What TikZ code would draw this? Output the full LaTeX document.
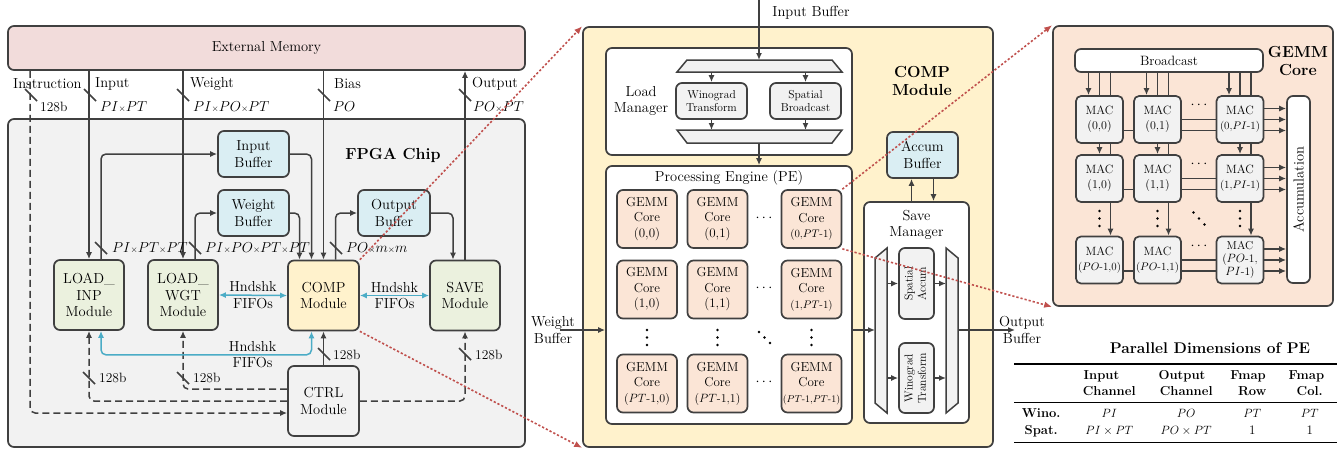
\documentclass[tikz,border=0pt]{standalone}
\usepackage{fontspec}
\usepackage{graphicx}
\usepackage{array}
\usepackage{booktabs}
\usetikzlibrary{arrows.meta}
\definecolor{linec}{HTML}{404040}
\definecolor{memc}{HTML}{F2DCDB}
\definecolor{chipc}{HTML}{F2F2F2}
\definecolor{grnc}{HTML}{EBF1DE}
\definecolor{ylwc}{HTML}{FFF2CC}
\definecolor{bluc}{HTML}{DAEEF3}
\definecolor{pchc}{HTML}{FBE5D6}
\definecolor{hsc}{HTML}{4BACC6}
\definecolor{zmc}{HTML}{C0504D}
\pgfdeclarelayer{back}
\pgfdeclarelayer{mid}
\pgfsetlayers{back,mid,main}
\newcommand\busmark[1]{\draw[linec, line width=1.5pt] (#1) ++(-6,-6) -- ++(12,12);}
\newcommand\tms{{\scriptstyle\times}}
\newcolumntype{C}[1]{>{\centering\arraybackslash}p{#1}}
\setlength{\heavyrulewidth}{1.6pt}
\setlength{\lightrulewidth}{1pt}
\begin{document}
\begin{tikzpicture}[x=1pt,y=-1pt,
  box/.style={draw=linec, line width=1.7pt, rounded corners=6pt, align=center, inner sep=0pt, font=\fontsize{14.5}{16.5}\selectfont},
  modbox/.style={box, minimum width=70pt, minimum height=70pt},
  bufbox/.style={box, fill=bluc, minimum width=71pt, minimum height=46pt},
  gemm/.style={box, fill=pchc, minimum width=60pt, minimum height=58pt, font=\fontsize{13}{15.5}\selectfont},
  mac/.style={box, fill=chipc, minimum width=47pt, minimum height=47pt, rounded corners=5pt, font=\fontsize{12}{15}\selectfont},
  smallbox/.style={box, fill=chipc, font=\fontsize{11.5}{13.3}\selectfont},
  lbl/.style={inner sep=0pt, align=center, font=\fontsize{14.5}{16.5}\selectfont},
  bus/.style={inner sep=0pt, anchor=west, font=\fontsize{13.5}{16}\selectfont},
  title/.style={inner sep=0pt, align=center, font=\bfseries\fontsize{16}{18}\selectfont},
  arr/.style={draw=linec, line width=1.5pt, -{Latex[length=7pt,width=6pt]}},
  ctl/.style={arr, dash pattern=on 7pt off 4pt, rounded corners=5pt},
  hs/.style={draw=hsc, line width=1.5pt, {Latex[length=7pt,width=6pt]}-{Latex[length=7pt,width=6pt]}, rounded corners=5pt},
  zoomln/.style={draw=zmc, line width=1.6pt, dash pattern=on 2.2pt off 2pt, -{Latex[length=8pt,width=6.5pt]}},
  trap/.style={draw=linec, line width=1.5pt, fill=chipc},
  dots/.style={inner sep=0pt, font=\fontsize{14}{16}\selectfont}]
\useasboundingbox (0,0) rectangle (1343,451);

% FPGA side
\node[box, fill=memc, minimum width=517pt, minimum height=44pt] (ext) at (266.5,48) {External Memory};
\node[box, fill=chipc, minimum width=517pt, minimum height=328pt] (chip) at (266.5,283) {};
\node[title] (chipt) at (393,155) {FPGA Chip};
\node[modbox, fill=grnc] (ldinp) at (89,295) {LOAD\_\\INP\\Module};
\node[modbox, fill=grnc] (ldwgt) at (183,295) {LOAD\_\\WGT\\Module};
\node[modbox, fill=ylwc, minimum width=71pt] (comp) at (323.5,295.5) {COMP\\Module};
\node[modbox, fill=grnc] (save) at (465,295.5) {SAVE\\Module};
\node[modbox, fill=chipc, minimum width=71pt] (ctrl) at (323.5,401) {CTRL\\Module};
\node[bufbox] (ibuf) at (253.5,154) {Input\\Buffer};
\node[bufbox] (wbuf) at (253.5,213) {Weight\\Buffer};
\node[bufbox, minimum width=72pt] (obuf) at (394,213) {Output\\Buffer};

\node[lbl, anchor=west] (linstr) at (13,84) {Instruction};
\node[bus] (binstr) at (40,107) {128b};
\node[lbl, anchor=west] (linp) at (95,84) {Input};
\node[bus] (binp) at (100,107) {$PI\tms PT$};
\node[lbl, anchor=west] (lwgt) at (190,84) {Weight};
\node[bus] (bwgt) at (193,107) {$PI\tms PO\tms PT$};
\node[lbl, anchor=west] (lbias) at (334,84) {Bias};
\node[bus] (bbias) at (333,107) {$PO$};
\node[lbl, anchor=west] (lout) at (472,84) {Output};
\node[bus] (bout) at (473,107) {$PO\tms PT$};

\draw[arr] (ldinp.north |- ext.south) -- (ldinp.north);
\draw[arr, rounded corners=5pt] ([xshift=12pt]ldinp.north) |- (ibuf.west);
\draw[arr] (ldwgt.north |- ext.south) -- (ldwgt.north);
\draw[arr, rounded corners=5pt] ([xshift=12pt]ldwgt.north) |- (wbuf.west);
\draw[arr] (comp.north |- ext.south) -- (comp.north);
\draw[arr, rounded corners=5pt] (ibuf.east) -| ([xshift=-12pt]comp.north);
\draw[arr, rounded corners=5pt] (wbuf.east) -| ([xshift=-24pt]comp.north);
\draw[arr, rounded corners=5pt] ([xshift=12pt]comp.north) |- (obuf.west);
\draw[arr, rounded corners=5pt] (obuf.east) -| ([xshift=-12pt]save.north);
\draw[arr] (save.north) -- (save.north |- ext.south);

\draw[ctl] ([xshift=23pt]ext.south west) |- ([yshift=-12pt]ctrl.west);
\draw[ctl] (ctrl.west) -| (ldinp.south);
\draw[ctl] ([yshift=12pt]ctrl.west) -| (ldwgt.south);
\draw[arr] (ctrl.north) -- (comp.south);
\draw[ctl] (ctrl.east) -| (save.south);

\draw[hs] (ldwgt.east) -- node[lbl] {Hndshk\\FIFOs} (comp.west);
\draw[hs] (comp.east) -- node[lbl] {Hndshk\\FIFOs} (save.west);
\draw[hs] ([xshift=12pt]ldinp.south) -- ++(0,24) -| node[lbl, pos=0.36] {Hndshk\\FIFOs} ([xshift=-12pt]comp.south);

\busmark{31,95} \busmark{90,95} \busmark{183,95} \busmark{324,95} \busmark{465,95}
\busmark{101,248} \busmark{195,248} \busmark{336,248}
\busmark{89,378} \busmark{183,378} \busmark{324,354} \busmark{465,354}
\node[bus] (b1) at (112,248) {$PI\tms PT\tms PT$};
\node[bus] (b2) at (205,248) {$PI\tms PO\tms PT\tms PT$};
\node[bus] (b3) at (346,248) {$PO\tms m\tms m$};
\node[bus] (b4) at (99,378) {128b};
\node[bus] (b5) at (193,378) {128b};
\node[bus] (b6) at (333,355) {128b};
\node[bus] (b7) at (475,355) {128b};

% COMP module
\begin{pgfonlayer}{back}
\node[box, fill=ylwc, minimum width=410pt, minimum height=420pt] (cbox) at (788,237) {};
\node[box, fill=pchc, minimum width=280pt, minimum height=280pt] (gbox) at (1193,166) {};
\end{pgfonlayer}
\node[title] (compt) at (922,81) {COMP\\Module};
\node[lbl] (iblbl) at (811,13) {Input Buffer};
\coordinate (ibtop) at (759,0);
\node[box, fill=white, minimum width=246pt, minimum height=107pt] (lm) at (729,101.5) {};
\node[lbl] (lmt) at (641,101) {Load\\Manager};
\draw[trap] (687,60) -- (832,60) -- (842,72) -- (677,72) -- cycle;
\draw[trap] (677,130) -- (842,130) -- (832,143) -- (687,143) -- cycle;
\coordinate (tt) at (759,60);
\coordinate (tb) at (759,72);
\coordinate (bt) at (759,130);
\coordinate (bb) at (759,143);
\node[smallbox, minimum width=71pt, minimum height=36pt] (wino) at (711.5,101) {Winograd\\Transform};
\node[smallbox, minimum width=71pt, minimum height=36pt] (spb) at (805.5,101) {Spatial\\Broadcast};
\draw[arr] (ibtop) -- (tt);
\draw[arr] (wino.north |- tb) -- (wino.north);
\draw[arr] (spb.north |- tb) -- (spb.north);
\draw[arr] (wino.south) -- (wino.south |- bt);
\draw[arr] (spb.south) -- (spb.south |- bt);

\node[box, fill=white, minimum width=246pt, minimum height=258pt] (pe) at (729,295) {};
\draw[arr] (bb) -- (bb |- pe.north);
\node[lbl] (pet) at (729,178) {Processing Engine (PE)};
\node[gemm] (g00) at (647,219) {GEMM\\Core\\(0,0)};
\node[gemm] (g01) at (717.5,219) {GEMM\\Core\\(0,1)};
\node[gemm] (g0n) at (811.5,219) {GEMM\\Core\\{\fontsize{11}{13}\selectfont(0,$PT$-1)}};
\node[gemm] (g10) at (647,289.5) {GEMM\\Core\\(1,0)};
\node[gemm] (g11) at (717.5,289.5) {GEMM\\Core\\(1,1)};
\node[gemm] (g1n) at (811.5,289.5) {GEMM\\Core\\{\fontsize{11}{13}\selectfont(1,$PT$-1)}};
\node[gemm] (gn0) at (647,383.5) {GEMM\\Core\\{\fontsize{12}{13}\selectfont($PT$-1,0)}};
\node[gemm] (gn1) at (717.5,383.5) {GEMM\\Core\\{\fontsize{12}{13}\selectfont($PT$-1,1)}};
\node[gemm] (gnn) at (811.5,383.5) {GEMM\\Core\\{\fontsize{10}{13}\selectfont($PT$-1,$PT$-1)}};
\node[dots] (d1) at (764,218) {$\cdots$};
\node[dots] (d2) at (764,288) {$\cdots$};
\node[dots] (d3) at (764,382) {$\cdots$};
\fill[black] (647,330) circle (1.4) (647,337.5) circle (1.4) (647,345) circle (1.4);
\fill[black] (717.5,330) circle (1.4) (717.5,337.5) circle (1.4) (717.5,345) circle (1.4);
\fill[black] (811.5,330) circle (1.4) (811.5,337.5) circle (1.4) (811.5,345) circle (1.4);
\fill[black] (759,332) circle (1.4) (764.5,337.5) circle (1.4) (770,343) circle (1.4);

\node[lbl] (wbl) at (553,330) {Weight\\Buffer};
\draw[arr] ([xshift=7pt]wbl.center) -- (wbl.center -| pe.west);

\node[bufbox] (abuf) at (922.5,155) {Accum\\Buffer};
\node[box, fill=white, minimum width=105pt, minimum height=221pt] (sm) at (916.5,312.5) {};
\node[lbl] (smt) at (916.5,225) {Save\\Manager};
\draw[trap] (875,258) -- (887,248) -- (887,413) -- (875,403) -- cycle;
\draw[trap] (946,248) -- (958,258) -- (958,403) -- (946,413) -- cycle;
\coordinate (sll) at (875,330);
\coordinate (slr) at (887,330);
\coordinate (srl) at (946,330);
\coordinate (srr) at (958,330);
\node[smallbox, minimum width=35pt, minimum height=71pt] (sacc) at (916.5,283.5) {\rotatebox{90}{\begin{tabular}{@{}c@{}}Spatial\\Accum\end{tabular}}};
\node[smallbox, minimum width=35pt, minimum height=70pt] (wtr) at (916.5,378) {\rotatebox{90}{\begin{tabular}{@{}c@{}}Winograd\\Transform\end{tabular}}};
\draw[arr] (sacc.west -| slr) -- (sacc.west);
\draw[arr] (sacc.east) -- (sacc.east -| srl);
\draw[arr] (wtr.west -| slr) -- (wtr.west);
\draw[arr] (wtr.east) -- (wtr.east -| srl);
\draw[arr] (sll -| pe.east) -- (sll);
\draw[arr] ([xshift=-11pt]abuf.south |- sm.north) -- ([xshift=-11pt]abuf.south);
\draw[arr] ([xshift=11pt]abuf.south) -- ([xshift=11pt]abuf.south |- sm.north);
\node[lbl] (obl) at (1022,330) {Output\\Buffer};
\draw[arr] (srr) -- ([xshift=-7pt]obl.center);

% GEMM core
\node[title] (gct) at (1298,61) {GEMM\\Core};
\node[box, fill=white, minimum width=188pt, minimum height=23pt, font=\fontsize{13.5}{15}\selectfont] (bc) at (1169,60.5) {Broadcast};
\node[box, fill=white, minimum width=23pt, minimum height=187pt] (acc) at (1298.5,189.5) {\rotatebox{90}{Accumulation}};
\node[mac] (m00) at (1099.5,119.5) {MAC\\(0,0)};
\node[mac] (m01) at (1157.5,119.5) {MAC\\(0,1)};
\node[mac] (m0n) at (1240,119.5) {MAC\\{\fontsize{11}{13}\selectfont(0,$PI$-1)}};
\node[mac] (m10) at (1099.5,178.5) {MAC\\(1,0)};
\node[mac] (m11) at (1157.5,178.5) {MAC\\(1,1)};
\node[mac] (m1n) at (1240,178.5) {MAC\\{\fontsize{11}{13}\selectfont(1,$PI$-1)}};
\node[mac] (mn0) at (1099.5,260) {MAC\\{\fontsize{11}{13}\selectfont($PO$-1,0)}};
\node[mac] (mn1) at (1157.5,260) {MAC\\{\fontsize{11}{13}\selectfont($PO$-1,1)}};
\node[mac, font=\fontsize{11.5}{13}\selectfont] (mnn) at (1240,260) {MAC\\($PO$-1,\\$PI$-1)};
\begin{pgfonlayer}{mid}
\draw[arr] ([xshift=-11pt]m00.north |- bc.south) -- ([xshift=-11pt]m00.north);
\draw[arr] (m10.north |- bc.south) -- (m10.north);
\draw[arr] ([xshift=11pt]mn0.north |- bc.south) -- ([xshift=11pt]mn0.north);
\draw[arr] ([xshift=-11pt]m01.north |- bc.south) -- ([xshift=-11pt]m01.north);
\draw[arr] (m11.north |- bc.south) -- (m11.north);
\draw[arr] ([xshift=11pt]mn1.north |- bc.south) -- ([xshift=11pt]mn1.north);
\draw[arr] ([xshift=-11pt]m0n.north |- bc.south) -- ([xshift=-11pt]m0n.north);
\draw[arr] (m1n.north |- bc.south) -- (m1n.north);
\draw[arr] ([xshift=11pt]mnn.north |- bc.south) -- ([xshift=11pt]mnn.north);
\draw[arr] ([yshift=-11pt]m00.east) -- ([yshift=-11pt]m00.east -| acc.west);
\draw[arr] (m01.east) -- (m01.east -| acc.west);
\draw[arr] ([yshift=11pt]m0n.east) -- ([yshift=11pt]m0n.east -| acc.west);
\draw[arr] ([yshift=-11pt]m10.east) -- ([yshift=-11pt]m10.east -| acc.west);
\draw[arr] (m11.east) -- (m11.east -| acc.west);
\draw[arr] ([yshift=11pt]m1n.east) -- ([yshift=11pt]m1n.east -| acc.west);
\draw[arr] ([yshift=-11pt]mn0.east) -- ([yshift=-11pt]mn0.east -| acc.west);
\draw[arr] (mn1.east) -- (mn1.east -| acc.west);
\draw[arr] ([yshift=11pt]mnn.east) -- ([yshift=11pt]mnn.east -| acc.west);
\end{pgfonlayer}
\node[dots] (e1) at (1199,105) {$\cdots$};
\node[dots] (e2) at (1199,164) {$\cdots$};
\node[dots] (e3) at (1199,246) {$\cdots$};
\fill[black] (1099.5,211) circle (1.4) (1099.5,218.5) circle (1.4) (1099.5,226) circle (1.4);
\fill[black] (1157.5,211) circle (1.4) (1157.5,218.5) circle (1.4) (1157.5,226) circle (1.4);
\fill[black] (1240,211) circle (1.4) (1240,218.5) circle (1.4) (1240,226) circle (1.4);
\fill[black] (1193.5,212.5) circle (1.4) (1199,218.5) circle (1.4) (1204.5,224.5) circle (1.4);

% table
\node[inner sep=0pt, font=\bfseries\fontsize{15.5}{18}\selectfont] (tblt) at (1210,348) {Parallel Dimensions of PE};
\node[anchor=north west, inner sep=0pt, font=\fontsize{13}{15.5}\selectfont] (tbl) at (1014,363) {%
\setlength{\tabcolsep}{0pt}\renewcommand{\arraystretch}{1.1}%
\begin{tabular}{C{54pt}C{82pt}C{72pt}C{60pt}C{55pt}}
\toprule
 & \textbf{Input}\newline\textbf{Channel} & \textbf{Output}\newline\textbf{Channel} & \textbf{Fmap}\newline\textbf{Row} & \textbf{Fmap}\newline\textbf{Col.}\\
\midrule
\textbf{Wino.} & $PI$ & $PO$ & $PT$ & $PT$\\
\textbf{Spat.} & $PI\times PT$ & $PO\times PT$ & 1 & 1\\
\bottomrule
\end{tabular}};

% zoom lines
\draw[zoomln] (comp.north east) -- (cbox.north west);
\draw[zoomln] (comp.south east) -- (cbox.south west);
\draw[zoomln] (g0n.north east) -- (gbox.north west);
\draw[zoomln] (g0n.south east) -- (gbox.south west);
\end{tikzpicture}
\end{document}
